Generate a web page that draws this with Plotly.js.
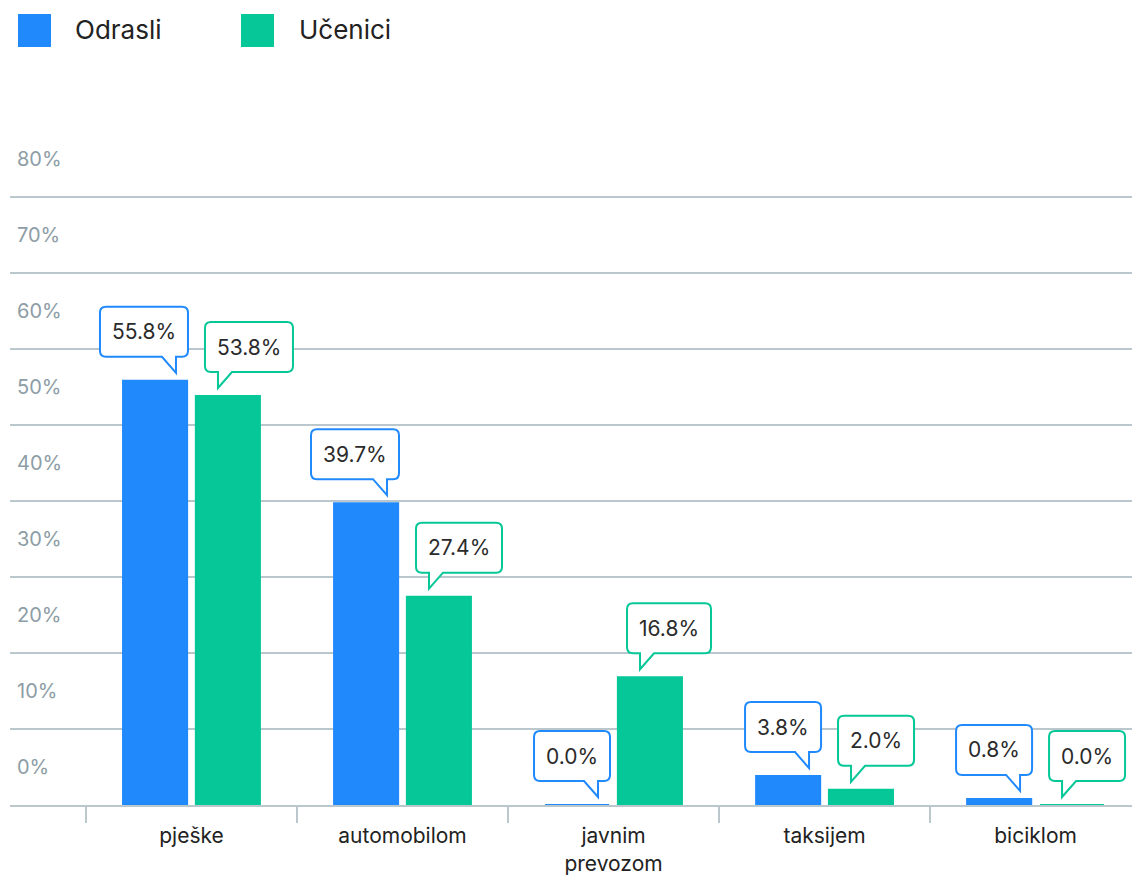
<!DOCTYPE html>
<html><head><meta charset="utf-8">
<script src="https://cdn.plot.ly/plotly-3.0.1.min.js"></script>
<style>html,body{margin:0;padding:0;background:#fff}#chart{width:1132px;height:875px}</style>
</head><body><div id="chart"></div>
<script>
// ---- data ----
const categories = ['pješke', 'automobilom', 'javnim<br>prevozom', 'taksijem', 'biciklom'];
const odrasli = [55.8, 39.7, 0.0, 3.8, 0.8];
const ucenici = [53.8, 27.4, 16.8, 2.0, 0.0];
const seriesNames = ['Odrasli', 'Učenici'];
const yTickVals = [0, 10, 20, 30, 40, 50, 60, 70, 80];
const yTickText = yTickVals.map(v => v + '%');

// ---- style ----
const BLUE = '#2089FC', GREEN = '#05C797', GRID = '#BAC7CD';
const FONT = 'Inter, Roboto, sans-serif';
const W = 1132, H = 875;
const M = {l: 10, r: 0, t: 136, b: 70};
const YMAX = 88;

const canvas = document.createElement('canvas');
const ctx = canvas.getContext('2d');
function textWidth(t, size) { ctx.font = size + 'px Inter'; return ctx.measureText(t).width; }

function roundedCallout(left, bottom, w, h, r, tipX, tipY, baseL, baseR) {
  const top = bottom + h, right = left + w;
  return 'M' + (left + r) + ',' + bottom +
    ' L' + baseL + ',' + bottom + ' L' + tipX + ',' + tipY + ' L' + baseR + ',' + bottom +
    ' L' + (right - r) + ',' + bottom + ' Q' + right + ',' + bottom + ' ' + right + ',' + (bottom + r) +
    ' L' + right + ',' + (top - r) + ' Q' + right + ',' + top + ' ' + (right - r) + ',' + top +
    ' L' + (left + r) + ',' + top + ' Q' + left + ',' + top + ' ' + left + ',' + (top - r) +
    ' L' + left + ',' + (bottom + r) + ' Q' + left + ',' + bottom + ' ' + (left + r) + ',' + bottom + ' Z';
}

const shapes = [], annotations = [];
const CALL_FONT = 21, BOX_H = 50, TIP_GAP = 8, PTR_H = 16, PTR_W = 14;
function addCallouts(vals, color, isLeft) {
  vals.forEach((v, i) => {
    const label = v.toFixed(1) + '%';
    const w = Math.round(textWidth(label, CALL_FONT) + 24);
    let tipX, left, baseL, baseR;
    if (isLeft) {
      tipX = -15.5; left = tipX + 12 - w; baseL = tipX - PTR_W; baseR = tipX;
    } else {
      tipX = 26.5; left = tipX - 13; baseL = tipX; baseR = tipX + PTR_W;
    }
    const tipY = TIP_GAP, bottom = TIP_GAP + PTR_H;
    shapes.push({
      type: 'path', xref: 'x', yref: 'y', xsizemode: 'pixel', ysizemode: 'pixel',
      xanchor: i, yanchor: v,
      path: roundedCallout(left, bottom, w, BOX_H, 6, tipX, tipY, baseL, baseR),
      fillcolor: '#ffffff', line: {color: color, width: 2}, layer: 'above'
    });
    annotations.push({
      x: i, y: v, xref: 'x', yref: 'y', showarrow: false,
      xanchor: 'center', yanchor: 'middle',
      xshift: left + w / 2, yshift: bottom + BOX_H / 2,
      text: label, font: {family: FONT, size: CALL_FONT, color: '#2b2b2b'}
    });
  });
}
addCallouts(odrasli, BLUE, true);
addCallouts(ucenici, GREEN, false);

// legend (drawn manually to get large square swatches)
const plotW = W - M.l - M.r, plotH = H - M.t - M.b;
const px = x => (x - M.l) / plotW;
const py = y => (H - M.b - y) / plotH;
[[seriesNames[0], BLUE, 18, 73], [seriesNames[1], GREEN, 241, 297]].forEach(([name, col, sx, tx]) => {
  shapes.push({type: 'rect', xref: 'paper', yref: 'paper', x0: px(sx), x1: px(sx + 33), y0: py(47), y1: py(14),
    fillcolor: col, line: {width: 0}});
  annotations.push({xref: 'paper', yref: 'paper', x: px(tx), y: py(30), xanchor: 'left', yanchor: 'middle',
    showarrow: false, text: name, font: {family: FONT, size: 26, color: '#222'}});
});

const traces = [
  {type: 'bar', x: categories, y: odrasli, name: seriesNames[0],
   marker: {color: BLUE, line: {color: BLUE, width: 2}}, hoverinfo: 'none'},
  {type: 'bar', x: categories, y: ucenici, name: seriesNames[1],
   marker: {color: GREEN, line: {color: GREEN, width: 2}}, hoverinfo: 'none'}
];

const layout = {
  width: W, height: H, margin: M,
  paper_bgcolor: '#fff', plot_bgcolor: '#fff',
  barmode: 'group', bargap: 0.31, bargroupgap: 0.12,
  showlegend: false,
  font: {family: FONT},
  xaxis: {type: 'category', range: [-0.86, 4.457], ticks: 'outside', tickson: 'boundaries',
    ticklen: 16, tickwidth: 2, tickcolor: GRID, showgrid: false,
    showline: true, linecolor: GRID, linewidth: 2, layer: 'below traces', zeroline: false,
    ticklabelstandoff: 11,
    tickfont: {family: FONT, size: 21, color: '#222'}, fixedrange: true},
  yaxis: {range: [0, YMAX], tickmode: 'array', tickvals: yTickVals, ticktext: yTickText,
    showgrid: true, gridcolor: GRID, gridwidth: 2, zeroline: false, showline: false, ticks: '',
    ticklabelposition: 'inside', ticklabelshift: -38, ticklabelstandoff: 4,
    tickfont: {family: FONT, size: 20, color: '#8D9DA5'}, fixedrange: true},
  shapes: shapes, annotations: annotations
};

Plotly.newPlot('chart', traces, layout, {displayModeBar: false, staticPlot: true});
</script>
</body></html>
